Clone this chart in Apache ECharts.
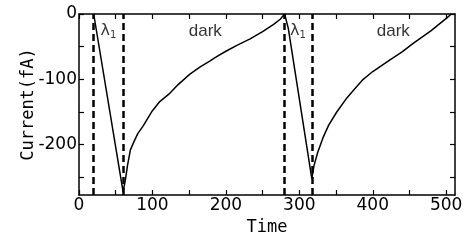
<!DOCTYPE html>
<html>
<head>
<meta charset="utf-8">
<script src="https://cdn.jsdelivr.net/npm/echarts@6/dist/echarts.min.js"></script>
<style>
  html, body { margin: 0; padding: 0; background: #fff; }
  #main { width: 470px; height: 242px; }
</style>
</head>
<body>
<div id="main"></div>
<script>
// data
var time = [20, 60, 63, 66, 70, 75, 80, 87, 95, 100, 110, 124, 135, 151, 165, 178, 188, 200, 215, 233, 250, 265, 274, 280,
            285, 317, 320, 325, 332, 340, 351, 365, 375, 387, 400, 424, 440, 455, 469, 480, 490, 501, 507];
var current = [0, -272, -255, -232, -208, -195, -183, -172, -157, -148, -134, -121, -108, -92, -81, -72, -65, -57, -48, -38, -27, -16, -8, 0,
               -22, -252, -232, -212, -190, -170, -150, -128, -115, -100, -88, -70, -58, -45, -34, -25, -16, -6, 0];
var lightEdges = [20, 60, 280, 317];
var labelX = [40, 172, 298, 428];
var labelY = [-26, -26, -26, -26];
var labelText = ['{l|λ}{s|1}', '{d|dark}', '{l|λ}{s|1}', '{d|dark}'];
var xTicks = [0, 50, 100, 150, 200, 250, 300, 350, 400, 450, 500];
var xLabels = [0, 100, 200, 300, 400, 500];
var yTicks = [0, -50, -100, -150, -200, -250];
var yLabels = [0, -100, -200];

var myChart = echarts.init(document.getElementById('main'));

var pts = [];
for (var i = 0; i < time.length; i++) pts.push([time[i], current[i]]);
var labelPts = [];
for (var j = 0; j < labelX.length; j++) labelPts.push({ value: [labelX[j], labelY[j]], label: { formatter: labelText[j] } });

var axisText = { color: '#000', fontFamily: 'DejaVu Sans', fontSize: 17 };
var frameLine = { show: true, onZero: false, lineStyle: { color: '#000', width: 1.5 } };

var option = {
    animation: false,
    grid: { left: 79, right: 15, top: 14, bottom: 47 },
    xAxis: [
        {
            type: 'value', min: 0, max: 512,
            name: 'Time', nameLocation: 'middle', nameGap: 24,
            nameTextStyle: { color: '#000', fontFamily: 'DejaVu Sans Mono', fontSize: 17 },
            axisLine: frameLine,
            axisTick: { show: true, inside: true, length: 5, customValues: xTicks, lineStyle: { color: '#000', width: 1.2 } },
            axisLabel: Object.assign({ customValues: xLabels, margin: 2 }, axisText),
            splitLine: { show: false }
        },
        {
            type: 'value', min: 0, max: 512, position: 'top',
            axisLine: frameLine,
            axisTick: { show: true, inside: true, length: 5, customValues: xTicks, lineStyle: { color: '#000', width: 1.2 } },
            axisLabel: { show: false },
            splitLine: { show: false }
        }
    ],
    yAxis: [
        {
            type: 'value', min: -277, max: 0,
            name: 'Current(fA)', nameLocation: 'middle', nameGap: 42, nameMoveOverlap: false,
            nameTextStyle: { color: '#000', fontFamily: 'DejaVu Sans Mono', fontSize: 17 },
            axisLine: frameLine,
            axisTick: { show: true, inside: true, length: 5, customValues: yTicks, lineStyle: { color: '#000', width: 1.2 } },
            axisLabel: Object.assign({ customValues: yLabels, margin: 2 }, axisText),
            splitLine: { show: false }
        },
        {
            type: 'value', min: -277, max: 0, position: 'right',
            axisLine: frameLine,
            axisTick: { show: true, inside: true, length: 5, customValues: yTicks, lineStyle: { color: '#000', width: 1.2 } },
            axisLabel: { show: false },
            splitLine: { show: false }
        }
    ],
    series: [
        {
            type: 'line',
            data: pts,
            showSymbol: false,
            lineStyle: { color: '#000', width: 1.5 },
            markLine: {
                silent: true,
                symbol: 'none',
                label: { show: false },
                lineStyle: { color: '#000', width: 2.5, type: [7, 4] },
                data: lightEdges.map(function (v) { return { xAxis: v }; })
            }
        },
        {
            type: 'scatter',
            data: labelPts,
            symbolSize: 0,
            itemStyle: { color: '#000' },
            label: {
                show: true,
                position: 'inside',
                color: '#000',
                rich: {
                    d: { fontFamily: 'Liberation Sans', fontSize: 17, color: '#000', textBorderWidth: 0 },
                    l: { fontFamily: 'DejaVu Sans', fontSize: 16, color: '#000', textBorderWidth: 0 },
                    s: { fontFamily: 'DejaVu Sans', fontSize: 10, color: '#000', textBorderWidth: 0, padding: [8, 0, 0, 0] }
                }
            }
        }
    ]
};

myChart.setOption(option);
</script>
</body>
</html>
